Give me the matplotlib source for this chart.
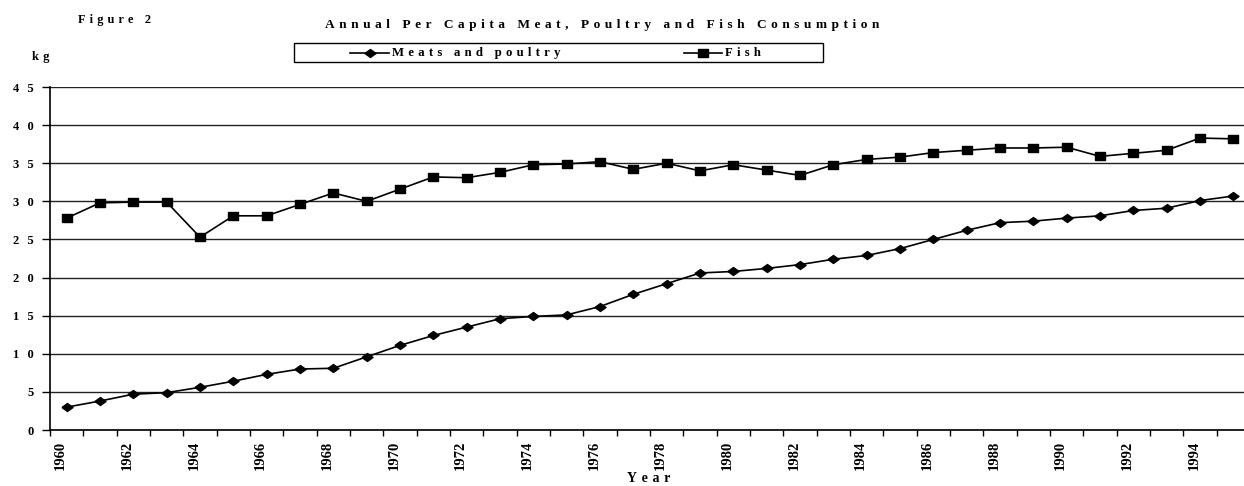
import matplotlib
matplotlib.use("Agg")
import matplotlib.pyplot as plt
import matplotlib.transforms as mtransforms
from matplotlib.lines import Line2D
from matplotlib.patches import Rectangle
import numpy as np

years = list(range(1960, 1996))

# kg per person per year
meats_poultry = [3.0, 3.8, 4.7, 4.9, 5.6, 6.4, 7.3, 8.0, 8.1, 9.6,
                 11.1, 12.4, 13.5, 14.6, 14.9, 15.1, 16.2, 17.8, 19.2, 20.6,
                 20.8, 21.2, 21.7, 22.4, 22.9, 23.8, 25.0, 26.2, 27.2, 27.4,
                 27.8, 28.1, 28.8, 29.1, 30.1, 30.7]
fish = [27.8, 29.8, 29.9, 29.9, 25.3, 28.1, 28.1, 29.6, 31.1, 30.0,
        31.6, 33.2, 33.1, 33.8, 34.8, 34.9, 35.2, 34.2, 35.0, 34.0,
        34.8, 34.1, 33.4, 34.8, 35.5, 35.8, 36.4, 36.7, 37.0, 37.0,
        37.1, 35.9, 36.3, 36.7, 38.3, 38.2]

y_ticks = list(range(0, 50, 5))
series_names = ["Meats and poultry", "Fish"]

plt.rcParams['font.family'] = ['Liberation Serif', 'DejaVu Serif']
plt.rcParams['font.weight'] = 'bold'


def spaced(text, gap="\u2004"):
    return gap.join(text)


W, H = 1244, 486
fig = plt.figure(figsize=(W / 100, H / 100), dpi=100)
ax = fig.add_axes([50 / W, (H - 430) / H, 1200 / W, 343 / H])

diamond = [(-1, 0), (0, 0.72), (1, 0), (0, -0.72), (-1, 0)]
wide_square = [(-1, -0.72), (1, -0.72), (1, 0.72), (-1, 0.72), (-1, -0.72)]
styles = [dict(marker=diamond, markersize=8), dict(marker=wide_square, markersize=7.5)]
line_kw = dict(color='black', linewidth=1.2)

x = np.arange(len(years))
ax.plot(x, meats_poultry, clip_on=False, zorder=3, **styles[0], **line_kw)
ax.plot(x, fish, clip_on=False, zorder=3, **styles[1], **line_kw)

ax.set_xlim(-0.5, len(years) - 0.5)
ax.set_ylim(0, 45)

# y axis: gridlines every 5 kg
ax.set_yticks(y_ticks)
ax.set_yticklabels([spaced(str(v), "\u2004\u2004") for v in y_ticks])
ax.yaxis.grid(True, color='#222222', linewidth=1.0)
ax.set_axisbelow(True)
ax.tick_params(axis='y', direction='out', length=6, width=1, pad=6,
               labelsize=9)

# x axis: tick marks between years, label every other year
ax.set_xticks(x[::2])
ax.set_xticklabels([str(y) for y in years[::2]], rotation=90, fontsize=10.5)
ax.set_xticks(np.arange(-0.5, len(years), 1), minor=True)
ax.tick_params(axis='x', which='major', length=0, pad=8)
ax.tick_params(axis='x', which='minor', direction='out', length=4, width=1)
shift = mtransforms.ScaledTranslation(-6 / 100, 0, fig.dpi_scale_trans)
for lbl in ax.get_xticklabels():
    lbl.set_transform(lbl.get_transform() + shift)

for side in ['top', 'right']:
    ax.spines[side].set_visible(False)
for side in ['left', 'bottom']:
    ax.spines[side].set_linewidth(1.2)

# texts
fig.text(78 / W, 1 - 20 / H, spaced("Figure 2"), fontsize=8.8, va='center')
fig.text(602 / W, 1 - 25 / H, spaced("Annual Per Capita Meat, Poultry and Fish Consumption"),
         fontsize=9.6, ha='center', va='center')
fig.text(41 / W, 1 - 57 / H, spaced("kg"), fontsize=9, ha='center', va='center')
fig.text(649 / W, 1 - 478 / H, spaced("Year"), fontsize=10, ha='center', va='center')

# legend box drawn in pixel coordinates
px = lambda v: v / W
py = lambda v: 1 - v / H
fig.add_artist(Rectangle((px(294), py(62)), px(823) - px(294), py(43) - py(62),
                         transform=fig.transFigure, fill=False,
                         edgecolor='black', linewidth=1.0))
legend_pos = [(350, 389), (684, 722)]
for (x0, x1), name, st in zip(legend_pos, series_names, styles):
    yl = py(52.8)
    fig.add_artist(Line2D([px(x0), px(x1)], [yl, yl], transform=fig.transFigure,
                          **line_kw))
    fig.add_artist(Line2D([px((x0 + x1) / 2)], [yl], transform=fig.transFigure,
                          color='black', linestyle='none', **st))
    fig.text(px(x1 + 3), yl, spaced(name), fontsize=9.2, va='center')

fig.savefig('out.png', dpi=100)
